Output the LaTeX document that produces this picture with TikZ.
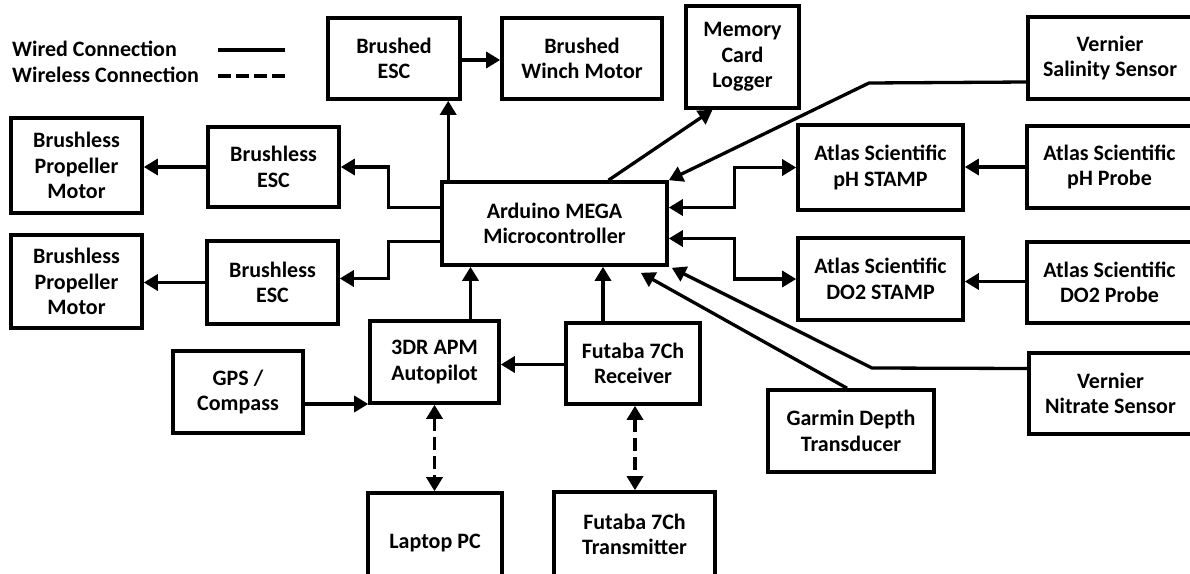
\documentclass[tikz,border=0pt]{standalone}
\usepackage{fontspec}
\setmainfont{Carlito}
\usetikzlibrary{arrows.meta, calc}
\tikzset{
  block/.style={rectangle, draw=black, line width=3.6pt,
                align=center, inner sep=2pt,
                font=\fontsize{22}{25.5}\selectfont\bfseries},
  wire/.style={-{Triangle[length=14pt,width=16pt]}, line width=3.3pt, black},
  wireboth/.style={{Triangle[length=14pt,width=16pt]}-{Triangle[length=14pt,width=16pt]},
                   line width=3.3pt, black},
  radio/.style={wireboth, dash pattern=on 13pt off 6pt},
  legend/.style={anchor=west, inner sep=0pt,
                 font=\fontsize{22}{25.5}\selectfont\bfseries},
}

\begin{document}
\begin{tikzpicture}[x=1pt, y=-1pt]
  \clip (0,0) rectangle (1190,573);
  % legend
  \node[legend] (lwired) at (12,49) {Wired Connection};
  \node[legend] (lwless) at (12,75) {Wireless Connection};
  \coordinate (wa) at (218,50);  \coordinate (wb) at (285,50);
  \coordinate (da) at (218,76);  \coordinate (db) at (285,76);
  \draw[line width=3.3pt] (wa) -- (wb);
  \draw[line width=3.3pt, dash pattern=on 13pt off 5pt] (da) -- (db);
  % top row
  \node[block, minimum width=132pt, minimum height=81pt] (besc) at (394,58.5) {Brushed\\ESC};
  \node[block, minimum width=160pt, minimum height=81pt] (winch) at (582,58.5) {Brushed\\Winch Motor};
  \node[block, minimum width=113pt, minimum height=102pt] (logger) at (742.5,57) {Memory\\Card\\Logger};
  \node[block, minimum width=164pt, minimum height=82pt] (salinity) at (1110,58) {Vernier\\Salinity Sensor};
  % propulsion
  \node[block, minimum width=131pt, minimum height=95pt] (motorA) at (76.5,165.5) {Brushless\\Propeller\\Motor};
  \node[block, minimum width=131pt, minimum height=80pt] (escA) at (273.5,167) {Brushless\\ESC};
  \node[block, minimum width=131pt, minimum height=93pt] (motorB) at (76.5,281.5) {Brushless\\Propeller\\Motor};
  \node[block, minimum width=131pt, minimum height=83pt] (escB) at (272.5,282.5) {Brushless\\ESC};
  % controller
  \node[block, minimum width=225pt, minimum height=83pt] (mega) at (554.5,223.5) {Arduino MEGA\\Microcontroller};
  % sensors
  \node[block, minimum width=165pt, minimum height=85pt] (phstamp) at (880.5,167.5) {Atlas Scientific\\pH STAMP};
  \node[block, minimum width=165pt, minimum height=82pt] (phprobe) at (1109.5,167) {Atlas Scientific\\pH Probe};
  \node[block, minimum width=165pt, minimum height=82pt] (dostamp) at (880.5,279) {Atlas Scientific\\DO2 STAMP};
  \node[block, minimum width=165pt, minimum height=81pt] (doprobe) at (1109.5,282.5) {Atlas Scientific\\DO2 Probe};
  \node[block, minimum width=166pt, minimum height=82pt] (garmin) at (851,431) {Garmin Depth\\Transducer};
  \node[block, minimum width=163pt, minimum height=81pt] (nitrate) at (1110.5,393.5) {Vernier\\Nitrate Sensor};
  % autopilot and radio
  \node[block, minimum width=129pt, minimum height=82pt] (apm) at (434.5,362) {3DR APM\\Autopilot};
  \node[block, minimum width=134pt, minimum height=81pt] (rx) at (633,363.5) {Futaba 7Ch\\Receiver};
  \node[block, minimum width=130pt, minimum height=82pt] (gps) at (238,392) {GPS /\\Compass};
  \node[block, minimum width=134pt, minimum height=100pt] (laptop) at (435,543) {Laptop PC};
  \node[block, minimum width=161pt, minimum height=85pt] (tx) at (634.5,534.5) {Futaba 7Ch\\Transmitter};
  \coordinate (salbend) at (869,83);
  \coordinate (nitbend) at (872,368);
  % wired links
  \draw[wire] (besc.east |- 0,60) -- (winch.west |- 0,60);
  \draw[wire] ([xshift=8pt]mega.north west) -- ([xshift=8pt]mega.north west |- besc.south);
  \draw[wire] ([xshift=54pt]mega.north) -- ([xshift=-30pt]logger.south);
  \draw[wire] ([yshift=-24pt]salinity.west) -- (salbend) -- (mega.north east);
  \draw[wireboth] ([yshift=16pt]mega.east) -- ++(66,0) |- (phstamp.west);
  \draw[wireboth] ([yshift=-15pt]mega.east) -- ++(66,0) |- (dostamp.west);
  \draw[wire] (phprobe.west) -- (phprobe.west -| phstamp.east);
  \draw[wire] ([yshift=1pt]doprobe.west) -- ([yshift=1pt]doprobe.west -| dostamp.east);
  \draw[wire] ([yshift=16pt]mega.west) -- ++(-52,0) |- (escA.east);
  \draw[wire] ([yshift=-18pt]mega.west) -- ++(-52,0) |- ([yshift=4pt]escB.east);
  \draw[wire] (escA.west) -- (escA.west -| motorA.east);
  \draw[wire] (escB.west) -- (escB.west -| motorB.east);
  \draw[wire] ([xshift=36pt]apm.north) -- ([xshift=36pt]apm.north |- mega.south);
  \draw[wire] ([xshift=-30pt]rx.north) -- ([xshift=-30pt]rx.north |- mega.south);
  \draw[wire] ([yshift=-1pt]rx.west) -- ([yshift=-1pt]rx.west -| apm.east);
  \draw[wire] ([yshift=-12pt]gps.east) -- ([yshift=-12pt]gps.east -| apm.west);
  \draw[wire] ([xshift=-4pt]garmin.north) -- ($(mega.south east)+(-28,6)$);
  \draw[wire] ([yshift=25pt]nitrate.west) -- (nitbend) -- ($(mega.south east)+(3,1)$);
  % wireless links
  \draw[radio] (apm.south) -- (apm.south |- laptop.north);
  \draw[radio] ([xshift=2pt]rx.south) -- ([xshift=2pt]rx.south |- tx.north);
\end{tikzpicture}
\end{document}
